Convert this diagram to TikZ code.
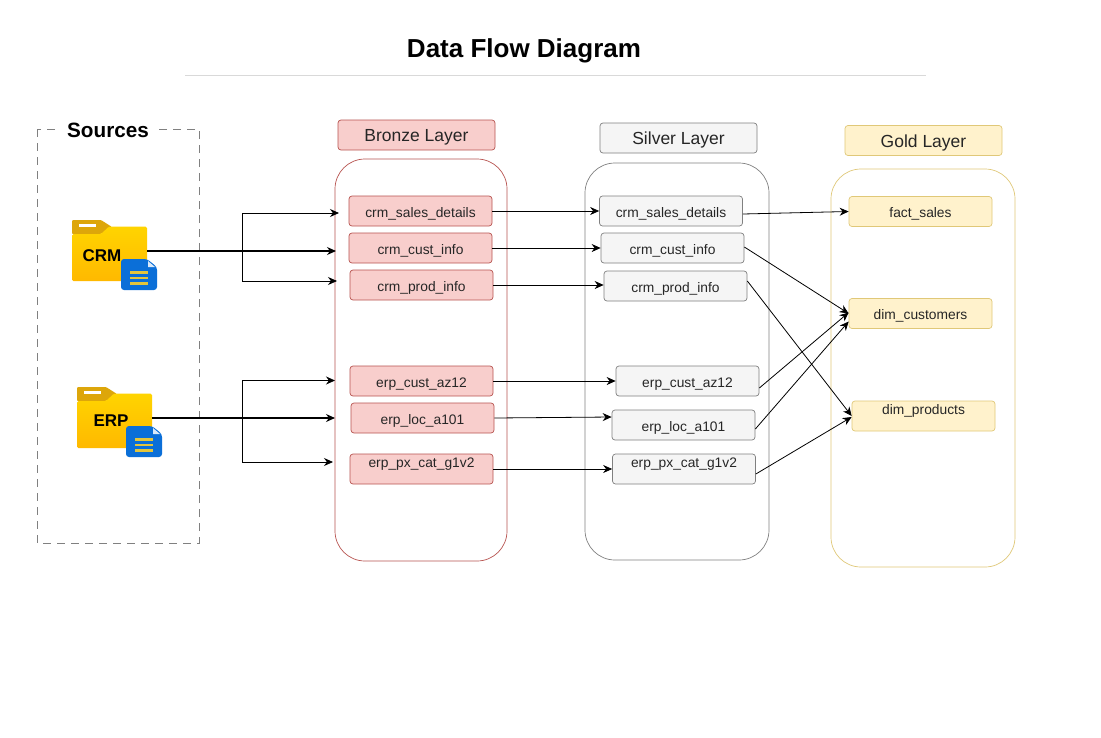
\documentclass[tikz,border=0pt]{standalone}
\usepackage{fontspec}
\setmainfont{Liberation Sans}
\usetikzlibrary{arrows.meta}
\definecolor{bzfill}{HTML}{F8CECC}\definecolor{bzline}{HTML}{B85450}
\definecolor{sifill}{HTML}{F5F5F5}\definecolor{siline}{HTML}{808080}
\definecolor{gofill}{HTML}{FFF2CC}\definecolor{goline}{HTML}{E0C878}
\definecolor{foldtop}{HTML}{FFD400}\definecolor{foldbot}{HTML}{FFB900}
\definecolor{foldtab}{HTML}{DDA60A}\definecolor{docblue}{HTML}{0B6FD8}\definecolor{docline}{HTML}{E3C53C}
\tikzset{
 x=1pt,y=-1pt,
 item/.style={draw,rounded corners=3pt,minimum width=143pt,minimum height=30pt,inner sep=0pt,text height=12pt,text depth=0pt,font=\fontsize{13.8}{15}\selectfont,text=black!85,line width=.7pt},
 bz/.style={item,fill=bzfill,draw=bzline},
 si/.style={item,fill=sifill,draw=siline},
 go/.style={item,fill=gofill,draw=goline},
 head/.style={minimum width=157pt,minimum height=30pt,text height=13.5pt,text depth=0pt,font=\fontsize{17.5}{18}\selectfont},
 layer/.style={draw,rounded corners=30pt,line width=.7pt},
 flow/.style={-{Stealth[length=9pt,width=8pt]},line width=.8pt,black},
 foldlabel/.style={font=\fontsize{17}{18}\selectfont\bfseries,inner sep=0pt,text=black},
 anchorbox/.style={minimum width=75pt,minimum height=61pt,inner sep=0pt},
}
\newcommand{\folderart}[2]{%
 \begin{scope}[shift={(#1,#2)}]
  \fill[foldtab,rounded corners=1pt] (0,0) -- (29,0) -- (40,7) -- (29,14) -- (0,14) -- cycle;
  \shade[top color=foldtop,bottom color=foldbot,rounded corners=1.5pt] (0,61) -- (0,14) -- (29,14) -- (37,6.5) -- (75,6.5) -- (75,61) -- cycle;
  \fill[white] (7,4) rectangle (24,7);
  \fill[docblue,rounded corners=3pt] (49,39) -- (75,39) -- (85,47) -- (85,70) -- (49,70) -- cycle;
  \fill[white!85!docblue] (76,41) -- (83,47) -- (76,47) -- cycle;
  \foreach \yy in {51,56.5,62}{\fill[docline] (58,\yy) rectangle (76,\yy+2.6);}
 \end{scope}}
\begin{document}
\begin{tikzpicture}
\useasboundingbox (0,0) rectangle (1101,737);
\fill[white] (0,0) rectangle (1101,737);
\node[font=\fontsize{26}{28}\selectfont\bfseries,inner sep=0pt] (title) at (524,51) {Data Flow Diagram};
\coordinate (ruleL) at (185,75);\coordinate (ruleR) at (926,75);
\draw[black!15,line width=.8pt] (ruleL) -- (ruleR);

\draw[black!50,line width=.8pt,dash pattern=on 8pt off 6pt] (37,129) rectangle (199,543);
\node[fill=white,inner xsep=6pt,inner ysep=1pt,font=\fontsize{20.7}{22}\selectfont\bfseries] (srclabel) at (108,130) {Sources};

\draw[layer,draw=bzline] (335,159) rectangle (507,561);
\draw[layer,draw=siline] (585,163) rectangle (769,560);
\draw[layer,draw=goline] (831,169) rectangle (1015,567);

\node[bz,head] (hb) at (416.5,135) {Bronze Layer};
\node[si,head] (hs) at (678.5,138) {Silver Layer};
\node[go,head] (hg) at (923.5,140.5) {Gold Layer};

\folderart{72}{220}
\folderart{77}{387}
\node[anchorbox] (crm) at (109.5,251) {};
\node[anchorbox] (erp) at (114.5,418) {};
\node[foldlabel] (crmt) at (102,256) {CRM};
\node[foldlabel] (erpt) at (111,421) {ERP};

\node[bz] (b1) at (420.5,211) {crm\_sales\_details};
\node[bz] (b2) at (420.5,248) {crm\_cust\_info};
\node[bz] (b3) at (421.5,285) {crm\_prod\_info};
\node[bz] (b4) at (421.5,381) {erp\_cust\_az12};
\node[bz] (b5) at (422.5,418) {erp\_loc\_a101};
\node[bz] (b6) at (421.5,469) {\raisebox{8pt}{erp\_px\_cat\_g1v2}};

\node[si] (s1) at (671,211) {crm\_sales\_details};
\node[si] (s2) at (672.5,248) {crm\_cust\_info};
\node[si] (s3) at (675.5,286) {crm\_prod\_info};
\node[si] (s4) at (687.5,381) {erp\_cust\_az12};
\node[si] (s5) at (683.5,425) {erp\_loc\_a101};
\node[si] (s6) at (684,469) {\raisebox{8pt}{erp\_px\_cat\_g1v2}};

\node[go] (g1) at (920.5,211.5) {fact\_sales};
\node[go] (g2) at (920.5,313.5) {dim\_customers};
\node[go] (g3) at (923.5,416) {\raisebox{8pt}{dim\_products}};

% source branches
\coordinate (cj) at (242,251);
\coordinate (ej) at (242,418);
\coordinate (ce1) at (339,213);\coordinate (ce2) at (336,251);\coordinate (ce3) at (337,281);
\coordinate (ee1) at (335,380.5);\coordinate (ee2) at (335,418);\coordinate (ee3) at (333,462);
\draw[flow,line width=1.1pt] (crm.east) -- (cj) -- (ce2);
\draw[flow] (cj) |- (ce1);
\draw[flow] (cj) |- (ce3);
\draw[flow,line width=1.1pt] (erp.east) -- (ej) -- (ee2);
\draw[flow] (ej) |- (ee1);
\draw[flow] (ej) |- (ee3);

% bronze to silver
\draw[flow] (b1.east) -- (s1.west);
\draw[flow] (b2.east) -- (s2.west);
\draw[flow] (b3.east) -- ([yshift=1pt]s3.west);
\draw[flow] (b4.east) -- (s4.west);
\draw[flow] (b5.east) -- ([yshift=8pt]s5.west);
\draw[flow] (b6.east) -- (s6.west);

% silver to gold
\draw[flow] ([yshift=-3pt]s1.east) -- (g1.west);
\draw[flow] ([yshift=1pt]s2.east) -- (g2.west);
\draw[flow] ([yshift=5pt]s3.east) -- (g3.west);
\draw[flow] ([yshift=-7pt]s4.east) -- ([yshift=1pt]g2.west);
\draw[flow] ([yshift=-4pt]s5.east) -- ([yshift=-8pt]g2.west);
\draw[flow] ([yshift=-5pt]s6.east) -- ([yshift=-1pt]g3.west);
\end{tikzpicture}
\end{document}
